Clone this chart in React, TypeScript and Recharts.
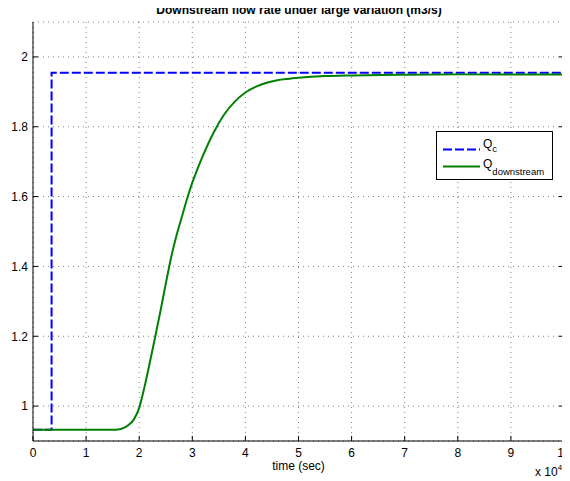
import React from 'react';
import { LineChart, Line, XAxis, YAxis, CartesianGrid } from 'recharts';

// time in units of 10^4 s
const xTicks = [0, 1, 2, 3, 4, 5, 6, 7, 8, 9, 10];
const yTicks = [1, 1.2, 1.4, 1.6, 1.8, 2];

const qcTime = [0, 0.35, 0.35, 10];
const qcValue = [0.932, 0.932, 1.955, 1.955];

const qdTime = [0, 1.5, 1.6, 1.7, 1.8, 1.9, 2.0, 2.1, 2.2, 2.3, 2.4, 2.5, 2.6, 2.7, 2.8, 2.9, 3.0, 3.1, 3.2, 3.4, 3.6, 3.8, 4.0, 4.2, 4.4, 4.6, 4.8, 5.0, 5.5, 6.0, 7.0, 8.0, 10];
const qdValue = [0.932, 0.932, 0.933, 0.937, 0.946, 0.962, 0.995, 1.055, 1.125, 1.197, 1.272, 1.35, 1.425, 1.487, 1.54, 1.593, 1.64, 1.68, 1.717, 1.783, 1.835, 1.872, 1.898, 1.915, 1.926, 1.933, 1.937, 1.94, 1.945, 1.947, 1.949, 1.95, 1.95];

const qcData = qcTime.map((t, i) => ({ t, v: qcValue[i] }));
const qdData = qdTime.map((t, i) => ({ t, v: qdValue[i] }));

const FONT = '"Liberation Sans", Arial, Helvetica, sans-serif';

const BottomTick = (props: any) => {
  const { x, y, payload } = props;
  return (
    <g>
      <line x1={x} x2={x} y1={y} y2={y - 5} stroke="#000" />
      <text x={x} y={y + 15.5} textAnchor="middle" fontFamily={FONT} fontSize={12} fill="#000">
        {payload.value}
      </text>
    </g>
  );
};

const TopTick = (props: any) => {
  const { x, y } = props;
  return <line x1={x} x2={x} y1={y} y2={y + 5} stroke="#000" />;
};

const LeftTick = (props: any) => {
  const { x, y, payload } = props;
  return (
    <g>
      <line x1={x} x2={x + 5} y1={y} y2={y} stroke="#000" />
      <text x={x - 5} y={y + 4.3} textAnchor="end" fontFamily={FONT} fontSize={12} fill="#000">
        {payload.value}
      </text>
    </g>
  );
};

const RightTick = (props: any) => {
  const { x, y } = props;
  return <line x1={x} x2={x - 5} y1={y} y2={y} stroke="#000" />;
};

export default function App() {
  return (
    <div style={{ position: 'relative', width: 562, height: 473 }}>
      <LineChart width={562} height={473} margin={{ top: 14, right: 0, bottom: 0, left: 0 }}>
        <CartesianGrid
          xAxisId="b"
          yAxisId="l"
          stroke="#000"
          strokeOpacity={0.5}
          strokeDasharray="1 4"
        />
        <XAxis
          xAxisId="b"
          type="number"
          dataKey="t"
          domain={[0, 10]}
          ticks={xTicks}
          interval={0}
          height={40}
          tickSize={0}
          tickMargin={0}
          tick={<BottomTick />}
          axisLine={{ stroke: '#000' }}
          allowDataOverflow
        />
        <XAxis
          xAxisId="t"
          orientation="top"
          type="number"
          dataKey="t"
          domain={[0, 10]}
          ticks={xTicks}
          interval={0}
          height={0}
          tickSize={0}
          tickMargin={0}
          tick={<TopTick />}
          axisLine={{ stroke: '#000' }}
          allowDataOverflow
        />
        <YAxis
          yAxisId="l"
          type="number"
          domain={[0.9, 2.1]}
          ticks={yTicks}
          interval={0}
          width={25}
          tickSize={0}
          tickMargin={0}
          tick={<LeftTick />}
          axisLine={{ stroke: '#000' }}
          allowDataOverflow
        />
        <YAxis
          yAxisId="r"
          orientation="right"
          type="number"
          domain={[0.9, 2.1]}
          ticks={yTicks}
          interval={0}
          width={6}
          tickSize={0}
          tickMargin={0}
          tick={<RightTick />}
          axisLine={{ stroke: '#000' }}
          allowDataOverflow
        />
        <Line
          xAxisId="b"
          yAxisId="l"
          data={qcData}
          dataKey="v"
          type="linear"
          stroke="#0000ff"
          strokeWidth={2}
          strokeDasharray="9 3"
          dot={false}
          isAnimationActive={false}
        />
        <Line
          xAxisId="b"
          yAxisId="l"
          data={qdData}
          dataKey="v"
          type="monotone"
          stroke="#008000"
          strokeWidth={2}
          dot={false}
          isAnimationActive={false}
        />
      </LineChart>
      <svg
        width={570}
        height={481}
        style={{ position: 'absolute', left: -8, top: -8, pointerEvents: 'none', overflow: 'visible' }}
        fontFamily={FONT}
      >
        <text x={299} y={14} textAnchor="middle" fontSize={12} fontWeight="bold" fill="#000">
          Downstream flow rate under large variation (m3/s)
        </text>
        <text x={298.5} y={470} textAnchor="middle" fontSize={12} fill="#000">
          time (sec)
        </text>
        <text x={535} y={476} fontSize={12} fill="#000">
          x 10<tspan dy={-6} fontSize={8}>4</tspan>
        </text>
        <rect x={436.5} y={131.5} width={116} height={48} fill="#fff" stroke="#000" />
        <line x1={443} x2={480} y1={149.5} y2={149.5} stroke="#0000ff" strokeWidth={2} strokeDasharray="9 3" />
        <line x1={443} x2={480} y1={166.5} y2={166.5} stroke="#008000" strokeWidth={2} />
        <text x={483} y={148} fontSize={12} fill="#000">
          Q<tspan dy={4} fontSize={9.5}>c</tspan>
        </text>
        <text x={483} y={168} fontSize={12} fill="#000">
          Q<tspan dy={7} fontSize={9.5}>downstream</tspan>
        </text>
      </svg>
    </div>
  );
}
